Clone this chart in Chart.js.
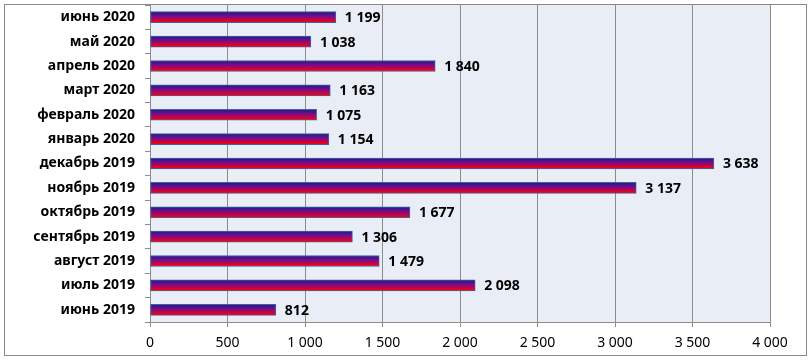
<!DOCTYPE html>
<html><head><meta charset="utf-8">
<script src="https://cdn.jsdelivr.net/npm/chart.js@4/dist/chart.umd.min.js"></script>
<style>html,body{margin:0;padding:0;background:#fff}#w{width:812px;height:360px;position:relative}</style>
</head><body><div id="w"><canvas id="c" width="812" height="360"></canvas></div>
<script>
const categories = ['июнь 2020','май 2020','апрель 2020','март 2020','февраль 2020','январь 2020','декабрь 2019','ноябрь 2019','октябрь 2019','сентябрь 2019','август 2019','июль 2019','июнь 2019'];
const values = [1199,1038,1840,1163,1075,1154,3638,3137,1677,1306,1479,2098,812];
const xTicks = [0,500,1000,1500,2000,2500,3000,3500,4000];

const FONT = '"Noto Sans", "Open Sans", sans-serif';
const fmt = v => String(v).replace(/\B(?=(\d{3})+(?!\d))/g, ' ');

const deco = {
  id:'deco',
  beforeDraw(chart){
    const {ctx, chartArea:a} = chart;
    ctx.save();
    ctx.fillStyle = '#E9EDF6';
    ctx.fillRect(a.left, a.top, a.right-a.left, a.bottom-a.top);
    ctx.restore();
  },
  afterDraw(chart){
    const {ctx} = chart;
    const meta = chart.getDatasetMeta(0);
    ctx.save();
    ctx.font = 'bold 14px ' + FONT;
    ctx.fillStyle = '#000';
    ctx.textBaseline = 'middle';
    ctx.textAlign = 'left';
    meta.data.forEach((bar,i)=>{
      ctx.fillText(fmt(values[i]), bar.x + 9, bar.y + 1);
    });
    ctx.strokeStyle = '#8a8a8a';
    ctx.lineWidth = 1;
    ctx.strokeRect(4.5, 4.5, 802, 351);
    ctx.restore();
  }
};

function barGradient(c){
  const chart = c.chart;
  if(!chart.chartArea) return '#8B0A8A';
  const y = chart.scales.y.getPixelForValue(c.dataIndex);
  const g = chart.ctx.createLinearGradient(0, y-5, 0, y+5);
  g.addColorStop(0, '#261A86');
  g.addColorStop(0.45, '#800A8A');
  g.addColorStop(1, '#FF0000');
  return g;
}

new Chart(document.getElementById('c'), {
  type:'bar',
  data:{labels:categories, datasets:[{data:values, backgroundColor:barGradient, borderColor:'#3A63A8', borderWidth:1, borderSkipped:false, barThickness:11}]},
  options:{
    indexAxis:'y', responsive:false, animation:false,
    layout:{padding:{top:5,right:42,left:0,bottom:0}},
    plugins:{legend:{display:false}, tooltip:{enabled:false}},
    scales:{
      x:{min:0,max:4000,
        afterBuildTicks(s){ s.ticks = xTicks.map(v=>({value:v})); },
        afterFit(s){ s.height = 38; s.paddingLeft = 0; s.paddingRight = 0; },
        border:{color:'#8C8C8C'},
        grid:{color:'#8C8C8C', tickLength:5, tickColor:'#8C8C8C'},
        ticks:{padding:8, color:'#000', font:{family:FONT,size:14}, callback:v=>fmt(v)}
      },
      y:{
        afterFit(s){ s.width = 150; s.paddingTop = 0; s.paddingBottom = 0; },
        border:{color:'#8C8C8C'},
        grid:{drawOnChartArea:false, offset:true, tickLength:5, tickColor:'#8C8C8C'},
        ticks:{padding:10, color:'#000', font:{family:FONT,size:14,weight:'bold'}}
      }
    }
  },
  plugins:[deco]
});
</script></body></html>
